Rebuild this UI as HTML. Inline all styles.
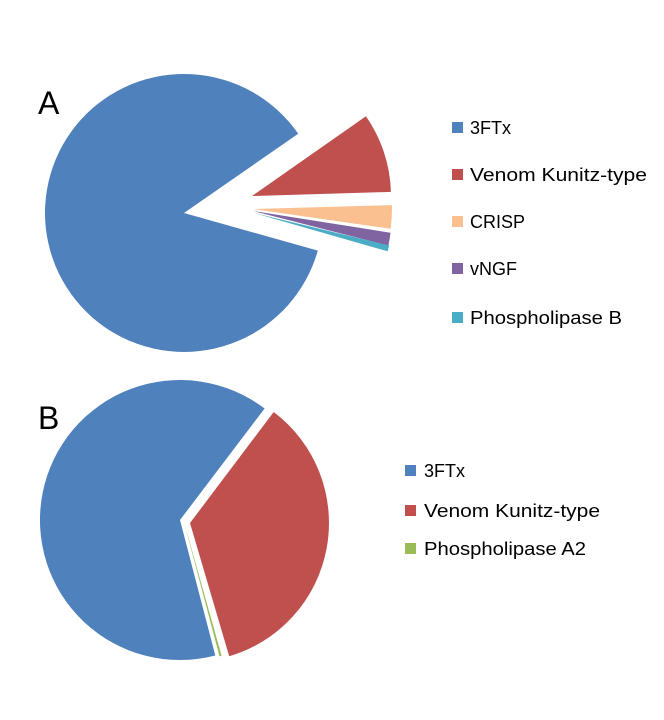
<!DOCTYPE html>
<html><head><meta charset="utf-8"><style>
html,body{margin:0;padding:0;background:#fff;}
svg{display:block;font-family:"Liberation Sans",sans-serif;}
</style></head><body>
<svg width="664" height="720" viewBox="0 0 664 720" xmlns="http://www.w3.org/2000/svg">
<rect width="664" height="720" fill="#fff"/>
<text x="38" y="114" font-size="32" fill="#000">A</text>
<path d="M184,213 L317.8,250.6 A139,139 0 1 1 298.2,133.7 Z" fill="#4f81bd"/>
<path d="M252,196 L365.9,116.3 A139,139 0 0 1 390.9,191.9 Z" fill="#c0504d"/>
<path d="M253,209 L391.9,205.1 A139,139 0 0 1 390.6,228.8 Z" fill="#fac090"/>
<path d="M253,211 L390.5,232.7 A139,139 0 0 1 388.4,245.6 Z" fill="#8064a2"/>
<path d="M254,213 L389.1,245.5 A139,139 0 0 1 387.6,251.3 Z" fill="#4bacc6"/>
<g font-size="18" fill="#000">
<rect x="452" y="122" width="11" height="11" fill="#4f81bd"/><text x="470" y="134">3FTx</text>
<rect x="452" y="169" width="11" height="11" fill="#c0504d"/><text x="470" y="181" textLength="177" lengthAdjust="spacingAndGlyphs">Venom Kunitz-type</text>
<rect x="452" y="216" width="11" height="11" fill="#fac090"/><text x="470" y="228">CRISP</text>
<rect x="452" y="263" width="11" height="11" fill="#8064a2"/><text x="470" y="275">vNGF</text>
<rect x="452" y="312" width="11" height="11" fill="#4bacc6"/><text x="470" y="324" textLength="152" lengthAdjust="spacingAndGlyphs">Phospholipase B</text>
</g>
<text x="38" y="429" font-size="32" fill="#000">B</text>
<path d="M180,520 L215.3,655.5 A140,140 0 1 1 264.6,408.5 Z" fill="#4f81bd"/>
<path d="M190,523 L273.7,412 A139,139 0 0 1 229.2,656.3 Z" fill="#c0504d"/>
<path d="M184,522 L221.6,655.8 A139,139 0 0 1 219.5,656.4 Z" fill="#9bbb59"/>
<g font-size="18" fill="#000">
<rect x="405" y="465" width="11" height="11" fill="#4f81bd"/><text x="424" y="477">3FTx</text>
<rect x="405" y="505" width="11" height="11" fill="#c0504d"/><text x="424" y="517" textLength="176" lengthAdjust="spacingAndGlyphs">Venom Kunitz-type</text>
<rect x="405" y="543" width="11" height="11" fill="#9bbb59"/><text x="424" y="555" textLength="162" lengthAdjust="spacingAndGlyphs">Phospholipase A2</text>
</g>
</svg>
</body></html>
